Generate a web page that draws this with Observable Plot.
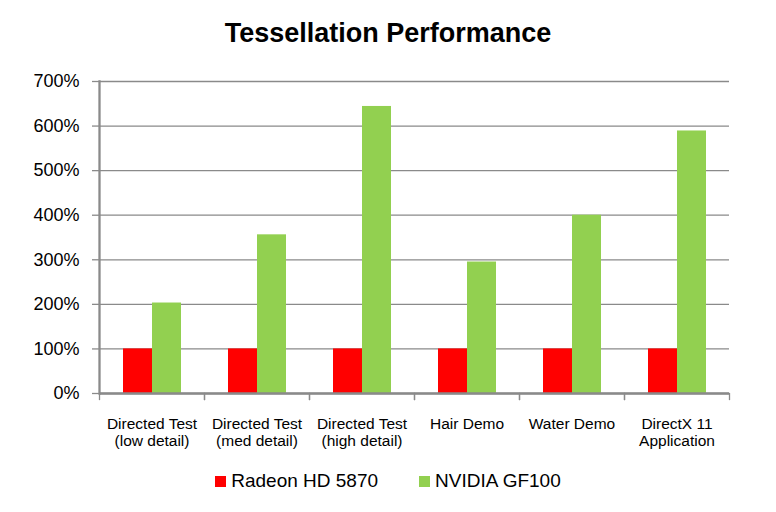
<!DOCTYPE html>
<html>
<head>
<meta charset="utf-8">
<script src="https://cdn.jsdelivr.net/npm/d3@7"></script>
<script src="https://cdn.jsdelivr.net/npm/@observablehq/plot@0.6"></script>
<style>
  html, body { margin: 0; padding: 0; background: #fff; }
  body { width: 776px; height: 512px; overflow: hidden; font-family: "Liberation Sans", Arial, Helvetica, sans-serif; color: #000; }
  #title { height: 60px; box-sizing: border-box; padding-top: 20px; text-align: center; font-weight: bold; font-size: 27px; line-height: 27px; }
  #chart svg { display: block; }
  #legend { height: 52px; box-sizing: border-box; padding-top: 11px; display: flex; justify-content: center; font-size: 19px; line-height: 19px; }
  .item { display: flex; align-items: baseline; }
  .item + .item { margin-left: 41px; }
  .swatch { display: inline-block; width: 11px; height: 11px; margin-right: 5px; }
</style>
</head>
<body>
<div id="title"></div>
<div id="chart"></div>
<div id="legend"></div>
<script>
const titleText = "Tessellation Performance";
const categories = [
  "Directed Test\n(low detail)",
  "Directed Test\n(med detail)",
  "Directed Test\n(high detail)",
  "Hair Demo",
  "Water Demo",
  "DirectX 11\nApplication"
];
const series = ["Radeon HD 5870", "NVIDIA GF100"];
const radeonValues = [100, 100, 100, 100, 100, 100];
const nvidiaValues = [203, 356, 644, 295, 400, 589];
const yTicks = [0, 100, 200, 300, 400, 500, 600, 700];
const colors = ["#ff0000", "#92d050"];

const data = categories.flatMap((c, i) => [
  {cat: c, series: series[0], value: radeonValues[i]},
  {cat: c, series: series[1], value: nvidiaValues[i]}
]);

document.getElementById("title").textContent = titleText;

const axisGrey = "#8a8a8a";
const plotHeight = 400, mTop = 21, mBottom = 67;
const innerH = plotHeight - mTop - mBottom;

const chart = Plot.plot({
  width: 776,
  height: plotHeight,
  marginTop: mTop,
  marginBottom: mBottom,
  marginLeft: 97,
  marginRight: 46,
  style: {fontFamily: "'Liberation Sans', Arial, Helvetica, sans-serif", color: "#000", background: "#fff"},
  fx: {domain: categories, padding: 0, label: null},
  x: {domain: series, paddingInner: 0, paddingOuter: 0.77, axis: null},
  y: {domain: [0, 700], label: null},
  color: {domain: series, range: colors},
  marks: [
    Plot.gridY(yTicks, {stroke: axisGrey, strokeOpacity: 1, strokeWidth: 1.3}),
    Plot.axisY(yTicks, {anchor: "left", tickSize: 7, tickPadding: 13, fontSize: 18, tickFormat: d => d + "%", label: null, stroke: axisGrey, strokeWidth: 1.3, fill: "#000"}),
    Plot.barY(data, {fx: "cat", x: "series", y: "value", fill: "series"}),
    Plot.ruleY([0], {stroke: axisGrey, strokeWidth: 2.3}),
    Plot.frame({anchor: "left", facetAnchor: "left", stroke: axisGrey, strokeWidth: 2.3}),
    Plot.frame({anchor: "left", insetTop: innerH, insetBottom: -6, stroke: axisGrey, strokeWidth: 1.3}),
    Plot.frame({anchor: "right", insetTop: innerH, insetBottom: -6, stroke: axisGrey, strokeWidth: 1.3}),
    Plot.axisFx({anchor: "bottom", tickSize: 0, tickPadding: 24, fontSize: 15.5, lineHeight: 1.08, label: null, fill: "#000"})
  ]
});
document.getElementById("chart").appendChild(chart);

const legend = document.getElementById("legend");
series.forEach((s, i) => {
  const item = document.createElement("div");
  item.className = "item";
  const sw = document.createElement("span");
  sw.className = "swatch";
  sw.style.background = colors[i];
  const label = document.createElement("span");
  label.textContent = s;
  item.appendChild(sw);
  item.appendChild(label);
  legend.appendChild(item);
});
</script>
</body>
</html>
